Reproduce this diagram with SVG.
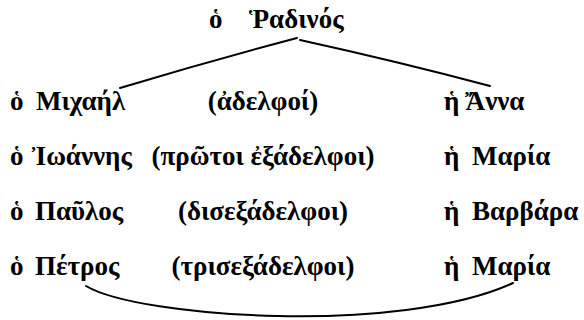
<svg xmlns="http://www.w3.org/2000/svg" width="584" height="320" viewBox="0 0 584 320">
<style>
text { font-family: "Liberation Serif", "DejaVu Serif", serif; font-size: 27px; fill: #000; font-weight: bold; }
.rel { text-anchor: middle; }
.link { fill: none; stroke: #000; stroke-width: 2; stroke-linecap: round; }
</style>
<rect width="584" height="320" fill="#fff"/>
<g id="connectors">
<path class="link" d="M297 38 Q210 61 120 88"/>
<path class="link" d="M300 40 Q400 62 490 86"/>
<path class="link" d="M86 286 C140 318 400 335 513 283"/>
</g>
<g id="radinos"><text x="209" y="28">ὁ</text><text x="249" y="28">Ῥαδινός</text></g>
<g id="michael"><text x="10" y="110">ὁ</text><text x="36" y="110">Μιχαήλ</text></g>
<g id="rel-siblings"><text x="263" y="110" class="rel">(ἀδελφοί)</text></g>
<g id="anna"><text x="444" y="110">ἡ</text><text x="465" y="110">Ἄννα</text></g>
<g id="ioannis"><text x="10" y="165">ὁ</text><text x="32" y="165">Ἰωάννης</text></g>
<g id="rel-first-cousins"><text x="263" y="165" class="rel">(πρῶτοι ἐξάδελφοι)</text></g>
<g id="maria1"><text x="444" y="165">ἡ</text><text x="472" y="165">Μαρία</text></g>
<g id="pavlos"><text x="10" y="220">ὁ</text><text x="35" y="220">Παῦλος</text></g>
<g id="rel-second-cousins"><text x="263" y="220" class="rel">(δισεξάδελφοι)</text></g>
<g id="varvara"><text x="444" y="220">ἡ</text><text x="472" y="220">Βαρβάρα</text></g>
<g id="petros"><text x="10" y="275">ὁ</text><text x="35" y="275">Πέτρος</text></g>
<g id="rel-third-cousins"><text x="263" y="275" class="rel">(τρισεξάδελφοι)</text></g>
<g id="maria2"><text x="444" y="275">ἡ</text><text x="472" y="275">Μαρία</text></g>
</svg>
